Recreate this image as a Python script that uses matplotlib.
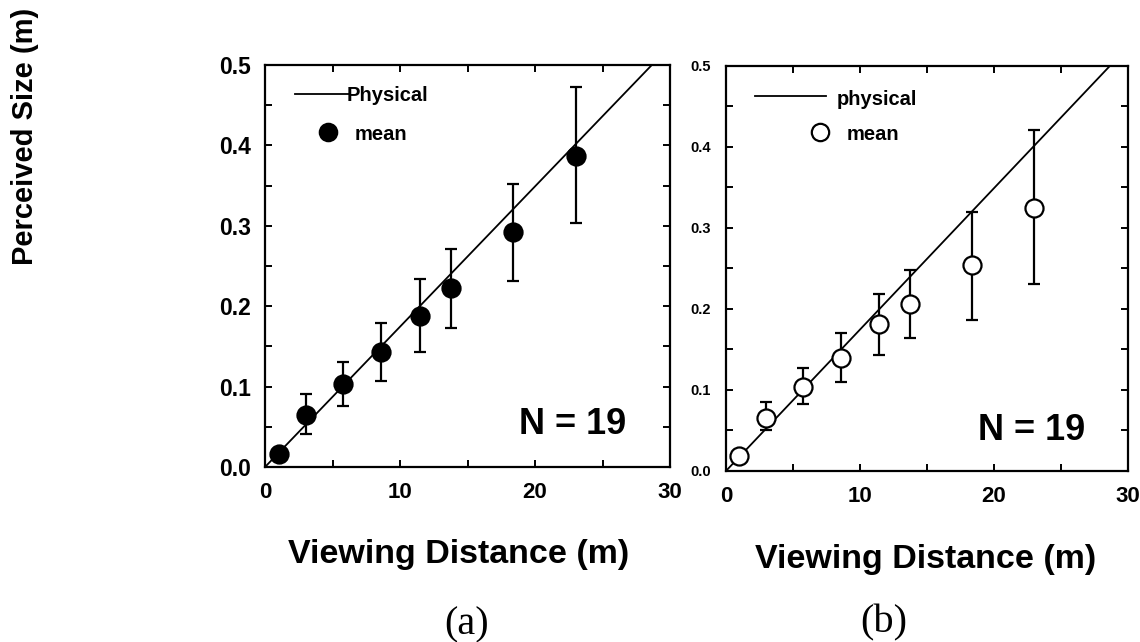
import matplotlib
matplotlib.use("Agg")
import matplotlib.pyplot as plt
import numpy as np

# ---------------- data ----------------
distance = [1.0, 3.0, 5.75, 8.6, 11.45, 13.75, 18.4, 23.0]

mean_a = [0.016, 0.065, 0.103, 0.143, 0.1875, 0.223, 0.2925, 0.387]
upper_a = [0.020, 0.0905, 0.131, 0.179, 0.2336, 0.271, 0.352, 0.472]
lower_a = [0.012, 0.0415, 0.0755, 0.107, 0.143, 0.1726, 0.2315, 0.303]

mean_b = [0.0185, 0.066, 0.104, 0.139, 0.1816, 0.206, 0.2543, 0.325]
upper_b = [0.022, 0.0855, 0.127, 0.1705, 0.2186, 0.2477, 0.3196, 0.421]
lower_b = [0.015, 0.050, 0.0826, 0.110, 0.1438, 0.1643, 0.187, 0.2305]

physical_x = [0, 30]
physical_y = [0, 0.5236]

xticks = [0, 10, 20, 30]
yticks = [0.0, 0.1, 0.2, 0.3, 0.4, 0.5]
ytick_labels = ["0.0", "0.1", "0.2", "0.3", "0.4", "0.5"]

# ---------------- figure ----------------
plt.rcParams['font.family'] = ['Liberation Sans', 'DejaVu Sans']
plt.rcParams['font.weight'] = 'bold'

fig = plt.figure(figsize=(11.4, 6.42), dpi=100)
ax_a = fig.add_axes([0.2325, 0.2726, 0.3553, 0.6262])
ax_b = fig.add_axes([0.6368, 0.2664, 0.3526, 0.6308])


def style(ax, ylabsize, ypad):
    ax.set_xlim(0, 30)
    ax.set_ylim(0, 0.5)
    ax.set_xticks(xticks)
    ax.set_xticks([5, 15, 25], minor=True)
    ax.set_yticks(yticks)
    ax.set_yticklabels(ytick_labels)
    ax.set_yticks([0.05, 0.15, 0.25, 0.35, 0.45], minor=True)
    for s in ax.spines.values():
        s.set_linewidth(1.6)
    ax.tick_params(which='both', direction='in', top=True, right=True,
                   length=5, width=1.4)
    ax.tick_params(axis='x', which='major', labelsize=16, pad=11)
    ax.tick_params(axis='y', which='major', labelsize=ylabsize, pad=ypad)
    for lab in ax.get_xticklabels() + ax.get_yticklabels():
        lab.set_fontweight('bold')


def panel(ax, mean, upper, lower, face, leg_text, leg):
    ax.plot(physical_x, physical_y, color='black', lw=1.3, zorder=2)
    m = np.array(mean)
    yerr = [m - np.array(lower), np.array(upper) - m]
    ax.errorbar(distance, mean, yerr=yerr, fmt='none', ecolor='black',
                elinewidth=1.6, capsize=4, capthick=1.6, zorder=3)
    ax.plot(distance, mean, 'o', ms=13, mfc=face, mec='black', mew=1.6,
            zorder=4, clip_on=False)
    # legend keys
    (lx0, lx1, ly), (tx, ty), (mx, my), (mtx, mty) = leg
    ax.plot([lx0, lx1], [ly, ly], color='black', lw=1.3,
            transform=ax.transAxes)
    ax.text(tx, ty, leg_text, transform=ax.transAxes, fontsize=14.5,
            fontweight='bold', va='center', ha='left')
    ax.plot([mx], [my], 'o', ms=12.5, mfc=face, mec='black', mew=1.6,
            transform=ax.transAxes)
    ax.text(mtx, mty, 'mean', transform=ax.transAxes, fontsize=14.5,
            fontweight='bold', va='center', ha='left')


style(ax_a, 16.5, 10)
style(ax_b, 10.5, 11)

panel(ax_a, mean_a, upper_a, lower_a, 'black', 'Physical',
      ((0.074, 0.207, 0.928), (0.2025, 0.923), (0.156, 0.833), (0.22, 0.828)))
panel(ax_b, mean_b, upper_b, lower_b, 'white', 'physical',
      ((0.072, 0.249, 0.926), (0.276, 0.918), (0.234, 0.837), (0.301, 0.830)))

ax_a.text(0.76, 0.105, 'N = 19', transform=ax_a.transAxes, fontsize=26,
          fontweight='bold', ha='center', va='center')
ax_b.text(0.76, 0.10, 'N = 19', transform=ax_b.transAxes, fontsize=26,
          fontweight='bold', ha='center', va='center')

# axis labels
fig.text(459 / 1140, 1 - 563 / 642, 'Viewing Distance (m)', fontsize=24.5,
         fontweight='bold', ha='center', va='baseline')
fig.text(926 / 1140, 1 - 568 / 642, 'Viewing Distance (m)', fontsize=24.5,
         fontweight='bold', ha='center', va='baseline')
fig.text(25 / 1140, 1 - 136 / 642, 'Perceived Size (m)', fontsize=21,
         fontweight='bold', ha='center', va='center', rotation=90)

fig.text(467 / 1140, 1 - 634 / 642, '(a)', fontsize=29,
         family=['Liberation Serif', 'DejaVu Serif'], fontweight='normal',
         ha='center', va='baseline')
fig.text(884 / 1140, 1 - 632 / 642, '(b)', fontsize=29,
         family=['Liberation Serif', 'DejaVu Serif'], fontweight='normal',
         ha='center', va='baseline')

fig.savefig('out.png', dpi=100)
